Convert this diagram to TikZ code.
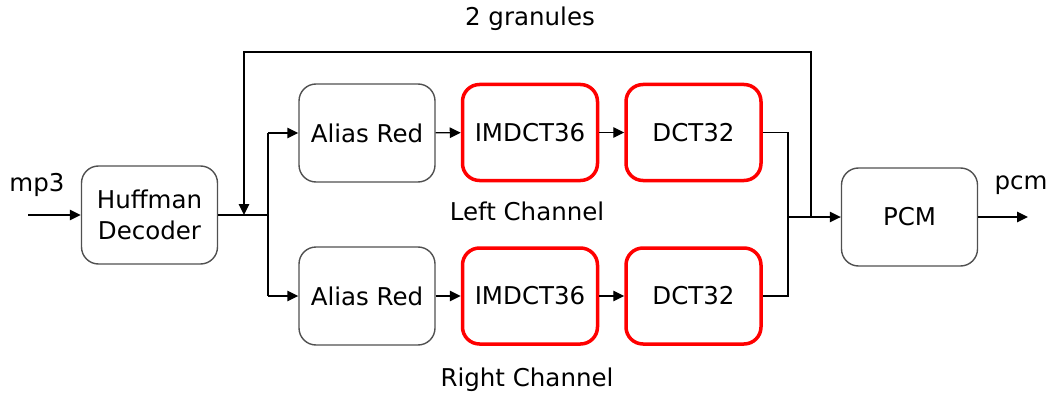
\documentclass[tikz,border=0pt]{standalone}
\usepackage{fontspec}
\setmainfont{DejaVu Sans}
\usetikzlibrary{arrows.meta}
\definecolor{boxgray}{HTML}{505050}
\begin{document}
\begin{tikzpicture}[x=1pt,y=-1pt,
  txt/.style={font=\fontsize{24.5}{31}\selectfont, inner sep=0pt},
  block/.style={txt, draw=boxgray, line width=1.4pt, rounded corners=17pt,
    minimum width=136pt, minimum height=98pt, align=center},
  redblock/.style={block, draw=red, line width=3.5pt, minimum width=135pt, minimum height=96pt},
  conn/.style={line width=1.4pt, draw=black},
  arr/.style={conn, -{Triangle[length=11pt,width=10.5pt]}}]
\useasboundingbox (0,0) rectangle (1047,396);

% processing blocks
\node[block] (huff) at (149.5,215) {Huffman\\Decoder};
\node[block] (alL) at (367,133) {Alias Red};
\node[redblock] (imL) at (530,132.5) {IMDCT36};
\node[redblock] (dcL) at (693.5,132.5) {DCT32};
\node[block] (alR) at (367,296) {Alias Red};
\node[redblock] (imR) at (530,296) {IMDCT36};
\node[redblock] (dcR) at (693.5,296) {DCT32};
\node[block] (pcm) at (909.5,217) {PCM};

% labels
\node[txt] (lmp3) at (37,185) {mp3};
\node[txt] (lpcm) at (1021,185) {pcm};
\node[txt] (lgran) at (530,19) {2 granules};
\node[txt] (lleft) at (527,211) {Left Channel};
\node[txt] (lright) at (527,380) {Right Channel};

% junction points
\coordinate (in) at (28,215);
\coordinate (split) at (268,215);
\coordinate (fbdown) at (244,215);
\coordinate (fbtop) at (244,52);
\coordinate (fbup) at (811,217);
\coordinate (merge) at (788,217);
\coordinate (out) at (1028,217);

% input and split into channels
\draw[arr] (in) -- (huff.west);
\draw[conn] (huff.east) -- (split);
\draw[conn] (split |- alL) -- (split |- alR);
\draw[arr] (split |- alL) -- (alL.west);
\draw[arr] (split |- alR) -- (alR.west);

% channel chains
\draw[arr] (alL) -- (imL);
\draw[arr] (imL) -- (dcL);
\draw[arr] (alR) -- (imR);
\draw[arr] (imR) -- (dcR);

% merge into PCM
\draw[conn] (dcL.east) -| (merge);
\draw[conn] (dcR.east) -| (merge);
\draw[arr] (merge) -- (pcm.west);
\draw[arr] (pcm.east) -- (out);

% granule feedback loop
\draw[arr] (fbup) |- (fbtop) -- (fbdown);
\end{tikzpicture}
\end{document}
